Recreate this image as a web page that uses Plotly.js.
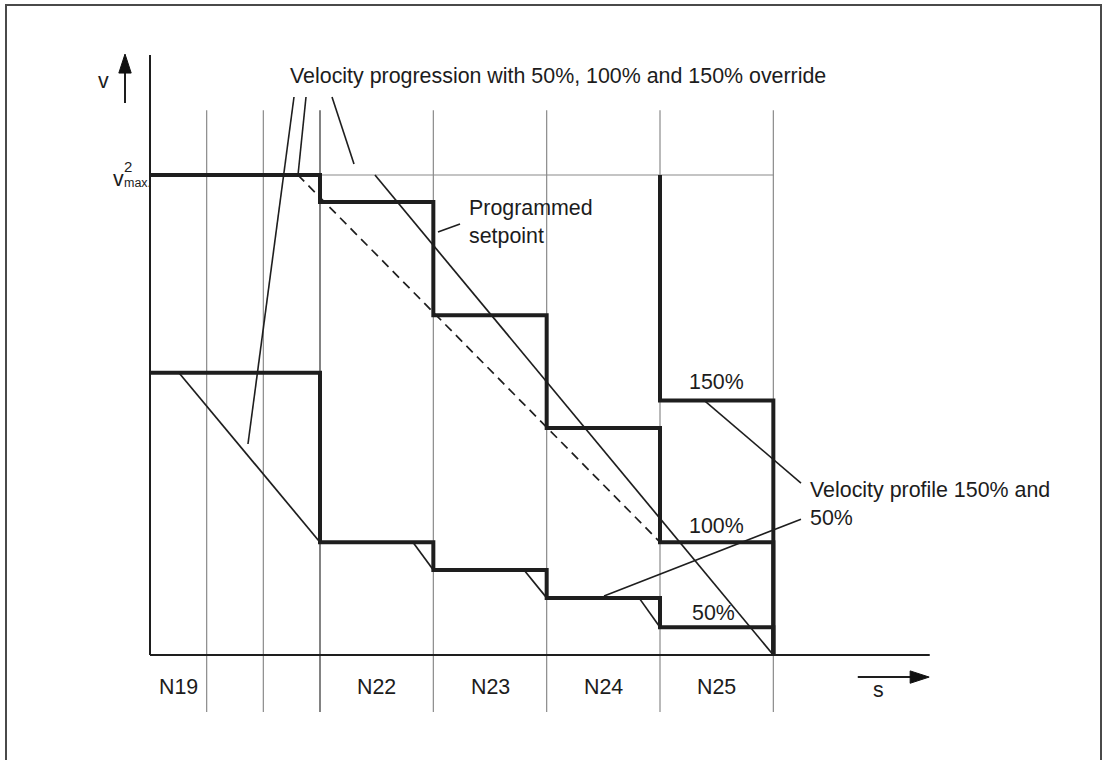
<!DOCTYPE html>
<html>
<head>
<meta charset="utf-8">
<script src="https://cdn.plot.ly/plotly-3.0.1.min.js"></script>
<style>html,body{margin:0;padding:0;background:#fff;}#chart{width:1103px;height:760px;}</style>
</head>
<body>
<div id="chart"></div>
<script>
// ---- Data (x in path units, y in % of v²max) ----
const blockEdges = [0, 3, 5, 7, 9, 11];           // block boundaries N19..N25 end
const gridX = [1, 2, 3, 5, 7, 9, 11];              // vertical separator lines
const blockLabels = ["N19", "N22", "N23", "N24", "N25"];
const blockLabelX = [0.5, 4, 6, 8, 10];
const setpoint100 = [100, 94.4, 70.8, 47.3, 23.5]; // programmed setpoint (100%)
const profile50 = [58.8, 23.5, 17.7, 11.9, 5.8];   // 50% override profile
const profile150N25 = 53;                          // 150% override level in N25
const vmax = 100;
// braking ramps [x0, y0, x1, y1]
const rampMain = [3.97, 100, 11, 0];
const rampDashed = [2.61, 100, 9, 23.5];
const ramp50 = [0.51, 58.8, 3, 23.5];
const smallRamps = [[4.64, 23.5, 5, 17.7], [6.6, 17.7, 7, 11.9], [8.63, 11.9, 9, 5.8]];
// leader lines [x0, y0, x1, y1]
const leaders = [
  [2.541, 116.25, 1.729, 43.96],
  [2.753, 116.25, 2.612, 100],
  [3.212, 116.25, 3.6, 102.3],
  [5.082, 88.1, 5.471, 89.8],
  [9.794, 52.9, 11.488, 35.8],
  [8.012, 12.3, 11.488, 28.3]
];
// axis arrows [x0, y0, x1, y1] (tail -> tip)
const vArrow = [-0.441, 115, -0.441, 125.2];
const sArrow = [12.49, -4.6, 13.75, -4.6];

const DARK = '#1e1e1e';
const traces = [];
// 100% programmed setpoint
traces.push({x: blockEdges.concat([11]), y: setpoint100.concat([setpoint100[4], 0]),
  mode: 'lines', line: {shape: 'hv', color: DARK, width: 4}, hoverinfo: 'skip'});
// 50% profile
traces.push({x: blockEdges.concat([11]), y: profile50.concat([profile50[4], 0]),
  mode: 'lines', line: {shape: 'hv', color: DARK, width: 4}, hoverinfo: 'skip'});
// 150% in N25
traces.push({x: [9, 9, 11, 11], y: [vmax, profile150N25, profile150N25, 0],
  mode: 'lines', line: {color: DARK, width: 4}, hoverinfo: 'skip'});
function seg(s, dash, w) {
  traces.push({x: [s[0], s[2]], y: [s[1], s[3]], mode: 'lines',
    line: {color: DARK, width: w || 1.7, dash: dash || 'solid'}, hoverinfo: 'skip'});
}
seg(rampMain);
seg(rampDashed, '9px,6px');
seg(ramp50);
smallRamps.forEach(s => seg(s));
leaders.forEach(s => seg(s, 'solid', 1.6));
// axis arrows as line + arrow marker at tip
[vArrow, sArrow].forEach(a => traces.push({x: [a[0], a[2]], y: [a[1], a[3]], mode: 'lines+markers',
  line: {color: DARK, width: 2}, marker: {symbol: 'arrow', angleref: 'previous', size: [0, 20], color: '#111',
  opacity: 1, line: {width: 1, color: '#111'}}, hoverinfo: 'skip'}));

const shapes = [];
// frame
shapes.push({type: 'rect', xref: 'paper', yref: 'paper', x0: 6/1103, x1: 1101/1103, y0: -0.05, y1: 1 - 5/760,
  line: {color: '#4a4a4a', width: 2}, fillcolor: 'rgba(0,0,0,0)', layer: 'below'});
// grid lines
gridX.forEach(g => shapes.push({type: 'line', xref: 'x', yref: 'y', x0: g, x1: g, y0: 113.5, y1: -11.9,
  line: {color: g === 3 ? '#303030' : '#8a8a8a', width: 1.2}, layer: 'below'}));
// v²max line
shapes.push({type: 'line', xref: 'x', yref: 'y', x0: 0, x1: 11, y0: vmax, y1: vmax,
  line: {color: '#8a8a8a', width: 1.2}, layer: 'below'});
// axes
shapes.push({type: 'line', xref: 'x', yref: 'y', x0: 0, x1: 0, y0: 125, y1: 0, line: {color: DARK, width: 2}});
shapes.push({type: 'line', xref: 'x', yref: 'y', x0: 0, x1: 13.76, y0: 0, y1: 0, line: {color: DARK, width: 2}});

const F = {family: 'Liberation Sans, Arial, sans-serif', size: 21.4, color: '#1c1c1c'};
const ann = [];
function txt(t, x, y, xa, ya, size) {
  ann.push({text: t, x: x, y: y, xref: 'x', yref: 'y', xanchor: xa || 'center', yanchor: ya || 'middle',
    showarrow: false, font: Object.assign({}, F, size ? {size: size} : {}), align: 'left'});
}
txt('Velocity progression with 50%, 100% and 150% override', 2.435, 120.6, 'left');
txt('Programmed<br>setpoint', 5.594, 90.3, 'left');
txt('150%', 10.0, 56.9);
txt('100%', 10.0, 26.9);
txt('50%', 9.95, 8.75);
txt('Velocity profile 150% and<br>50%', 11.612, 31.4, 'left');
txt('v', -0.812, 119.6);
// v²max. label: v with stacked superscript and subscript
txt('v', -0.42, 99.2, 'right');
txt('2', -0.49, 101.8, 'left', 'middle', 15);
txt('max.', -0.49, 98.4, 'left', 'middle', 12.5);
blockLabels.forEach((l, i) => txt(l, blockLabelX[i], -6.67));
txt('s', 12.85, -7.3);

const layout = {
  width: 1103, height: 760, margin: {l: 0, r: 0, t: 0, b: 0},
  paper_bgcolor: '#fff', plot_bgcolor: '#fff', showlegend: false,
  xaxis: {range: [-150/56.667, 953/56.667], visible: false, fixedrange: true},
  yaxis: {range: [-105/4.8, 655/4.8], visible: false, fixedrange: true},
  shapes: shapes, annotations: ann
};
Plotly.newPlot('chart', traces, layout, {staticPlot: true});
</script>
</body>
</html>
